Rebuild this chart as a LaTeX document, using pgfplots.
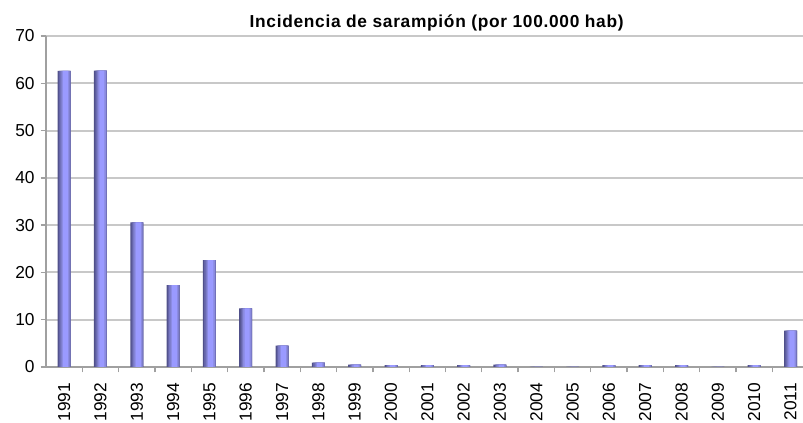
\documentclass[border=0pt]{standalone}
\usepackage{pgfplots}
\pgfplotsset{compat=1.18}
\usepackage{fontspec}
\setmainfont{Liberation Sans}
\newfontfamily\titlefont[LetterSpace=4]{Liberation Sans}
\definecolor{barA}{HTML}{50508A}
\definecolor{barB}{HTML}{6464A8}
\definecolor{barC}{HTML}{7878C4}
\definecolor{barD}{HTML}{8A8ADF}
\definecolor{barE}{HTML}{9A9AFF}
\definecolor{gridc}{HTML}{C8C8C8}
\definecolor{axisc}{HTML}{A0A0A0}

\pgfplotstableread{
x val
0 62.6
1 62.7
2 30.6
3 17.3
4 22.6
5 12.4
6 4.5
7 0.9
8 0.5
9 0.4
10 0.4
11 0.4
12 0.5
13 0
14 0
15 0.4
16 0.4
17 0.4
18 0
19 0.4
20 7.7
}\measles

\begin{document}
\begin{tikzpicture}
\path[use as bounding box] (-34.5pt,-42pt) rectangle (567.75pt,275.25pt);
\begin{axis}[
  scale only axis,width=572pt,height=248.25pt,
  xmin=-0.5,xmax=20.5,ymin=0,ymax=70,
  axis lines=left,axis line style={axisc,line width=1pt,-},
  ybar,
  ytick={0,10,...,70},
  ymajorgrids,grid style={gridc,line width=1.4pt},
  xtick={0,...,20},
  xticklabels={1991,1992,1993,1994,1995,1996,1997,1998,1999,2000,2001,2002,2003,2004,2005,2006,2007,2008,2009,2010,2011},
  minor xtick={0.5,1.5,...,19.5},
  x tick label style={rotate=90,anchor=east,xshift=-4.5pt},
  tick label style={font=\fontsize{13}{15}\selectfont},
  y tick label style={xshift=-1pt},
  /pgf/number format/assume math mode=true,
  major x tick style={draw=none},
  minor tick length=4pt,
  major tick length=4pt,
  tick align=outside,
  tick style={axisc,line width=1pt},
  title={\titlefont\bfseries Incidencia de sarampión (por 100.000 hab)},
  title style={font=\fontsize{13}{15}\selectfont,yshift=-6pt,xshift=7pt},
  every axis plot/.append style={draw=none},
  ]
  \addplot[fill=barA,bar width=9.75pt,bar shift=0pt] table[x=x,y=val] {\measles};
  \addplot[fill=barB,bar width=8.775pt,bar shift=0.4875pt] table[x=x,y=val] {\measles};
  \addplot[fill=barC,bar width=7.5pt,bar shift=0.85pt] table[x=x,y=val] {\measles};
  \addplot[fill=barD,bar width=5.9pt,bar shift=1.05pt] table[x=x,y=val] {\measles};
  \addplot[fill=barE,bar width=3.9pt,bar shift=1.05pt] table[x=x,y=val] {\measles};
\end{axis}
\end{tikzpicture}
\end{document}
